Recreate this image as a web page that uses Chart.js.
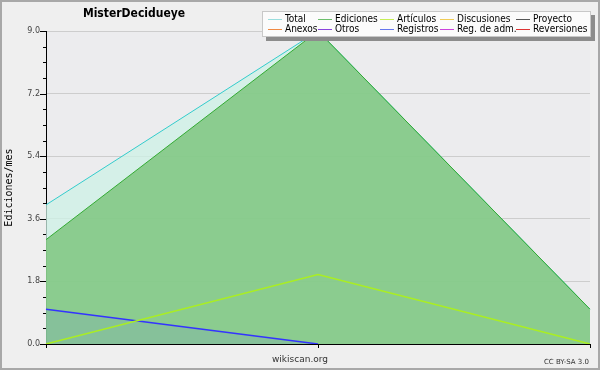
<!DOCTYPE html>
<html>
<head>
<meta charset="utf-8">
<script src="https://cdn.jsdelivr.net/npm/chart.js@4/dist/chart.umd.min.js"></script>
<style>
  html, body { margin: 0; padding: 0; background: #efefef; }
</style>
</head>
<body>
<canvas id="chart" width="600" height="370"></canvas>
<script>
// three monthly points, no tick labels shown on the x axis
const months = ['', '', ''];

const total = [4, 9, 1];
const ediciones = [3, 9, 1];
const articulos = [0, 2, 0];
const discusiones = [null, null, null];
const proyecto = [null, null, null];
const anexos = [null, null, null];
const otros = [null, null, null];
const registros = [1, 0, null];
const regAdm = [null, null, null];
const reversiones = [null, null, null];

const seriesNames = ['Total', 'Ediciones', 'Artículos', 'Discusiones', 'Proyecto',
                     'Anexos', 'Otros', 'Registros', 'Reg. de adm.', 'Reversiones'];
const legendColors = ['#9adede', '#6cbf6c', '#c6ee55', '#f0cc55', '#555555',
                      '#f08a44', '#8a44dd', '#6677ee', '#cc44dd', '#dd3333'];

const yTitle = 'Ediciones/mes';
const chartTitle = 'MisterDecidueye';

const decor = {
    id: 'decor',
    beforeDraw(chart) {
        const { ctx, chartArea: a } = chart;
        ctx.save();
        ctx.fillStyle = '#efefef';
        ctx.fillRect(0, 0, chart.width, chart.height);
        ctx.fillStyle = '#ececee';
        ctx.fillRect(a.left, a.top, a.right - a.left, a.bottom - a.top);
        ctx.restore();
    },
    afterDraw(chart) {
        const { ctx, chartArea: a } = chart;
        const ys = chart.scales.y;
        const xs = chart.scales.x;
        ctx.save();

        // tick marks on y (major every 4th)
        ctx.strokeStyle = '#000';
        ctx.lineWidth = 1;
        ys.ticks.forEach((t, i) => {
            const py = Math.round(ys.getPixelForValue(t.value)) + 0.5;
            const len = i % 4 === 0 ? 6 : 3;
            ctx.beginPath();
            ctx.moveTo(a.left - len, py);
            ctx.lineTo(a.left, py);
            ctx.stroke();
        });
        // tick marks on x
        for (let i = 0; i < months.length; i++) {
            const px = Math.round(xs.getPixelForValue(i)) + 0.5;
            ctx.beginPath();
            ctx.moveTo(px, a.bottom);
            ctx.lineTo(px, a.bottom + 4);
            ctx.stroke();
        }

        // title
        ctx.fillStyle = '#000';
        ctx.font = 'bold 12px "DejaVu Sans Condensed", "DejaVu Sans"';
        ctx.textAlign = 'center';
        ctx.textBaseline = 'middle';
        ctx.fillText(chartTitle, 134, 14);

        // legend box with shadow
        ctx.fillStyle = '#8c8c8c';
        ctx.fillRect(266, 15, 329, 26);
        ctx.fillStyle = '#fbfbfb';
        ctx.fillRect(262, 11, 329, 26);
        ctx.strokeStyle = '#c8c8c8';
        ctx.strokeRect(262.5, 11.5, 328, 25);

        const colX = [285, 335, 397, 457, 533];
        ctx.font = '10px "DejaVu Sans Condensed", "DejaVu Sans"';
        ctx.textAlign = 'left';
        for (let i = 0; i < seriesNames.length; i++) {
            const x = colX[i % 5];
            const y = i < 5 ? 19 : 29;
            ctx.strokeStyle = legendColors[i];
            ctx.beginPath();
            ctx.moveTo(x - 17, y + 0.5);
            ctx.lineTo(x - 3, y + 0.5);
            ctx.stroke();
            ctx.fillStyle = '#000';
            ctx.fillText(seriesNames[i], x, y);
        }

        // footer texts
        ctx.fillStyle = '#333';
        ctx.font = '9px "DejaVu Sans"';
        ctx.textAlign = 'center';
        ctx.fillText('wikiscan.org', 300, 360);
        ctx.font = '7px "DejaVu Sans"';
        ctx.textAlign = 'right';
        ctx.fillText('CC BY-SA 3.0', 589, 362);

        // outer frame
        ctx.strokeStyle = '#a8a8a8';
        ctx.lineWidth = 2;
        ctx.strokeRect(1, 1, chart.width - 2, chart.height - 2);
        ctx.restore();
    }
};

const mk = (i, data, line, fill, width, order) => ({
    label: seriesNames[i],
    data: data,
    borderColor: line,
    backgroundColor: fill || 'rgba(0,0,0,0)',
    fill: fill ? 'origin' : false,
    borderWidth: width,
    pointRadius: 0,
    tension: 0,
    order: order
});

new Chart(document.getElementById('chart'), {
    type: 'line',
    data: {
        labels: months,
        datasets: [
            mk(0, total, '#33cccc', 'rgba(206,242,230,0.75)', 1, 10),
            mk(1, ediciones, '#33aa33', 'rgba(120,195,120,0.8)', 1, 9),
            mk(2, articulos, '#aaee22', null, 1.5, 2),
            mk(3, discusiones, legendColors[3], null, 1.5, 7),
            mk(4, proyecto, legendColors[4], null, 1.5, 7),
            mk(5, anexos, legendColors[5], null, 1.5, 7),
            mk(6, otros, legendColors[6], null, 1.5, 7),
            mk(7, registros, '#3333ff', 'rgba(100,100,255,0.1)', 1.5, 3),
            mk(8, regAdm, legendColors[8], null, 1.5, 7),
            mk(9, reversiones, legendColors[9], null, 1.5, 7)
        ]
    },
    options: {
        responsive: false,
        animation: false,
        layout: { padding: { top: 31, right: 10, left: 0, bottom: 0 } },
        plugins: {
            legend: { display: false },
            title: { display: false },
            tooltip: { enabled: false }
        },
        scales: {
            x: {
                offset: false,
                afterFit(s) { s.height = 26; },
                ticks: { display: false },
                grid: { display: false },
                border: { color: '#000', width: 1 }
            },
            y: {
                min: 0,
                max: 9,
                afterFit(s) { s.width = 46; },
                ticks: {
                    stepSize: 0.45,
                    maxTicksLimit: 30,
                    autoSkip: false,
                    padding: 0,
                    color: '#444',
                    font: { family: 'DejaVu Sans', size: 8 },
                    callback: (v, i) => i % 4 === 0 ? Number(v).toFixed(1) : ''
                },
                grid: {
                    color: c => (c.index % 4 === 0 && c.index > 0) ? '#cdcdcd' : 'rgba(0,0,0,0)',
                    tickLength: 6,
                    tickColor: 'rgba(0,0,0,0)'
                },
                border: { color: '#000', width: 1 },
                title: {
                    display: true,
                    text: yTitle,
                    color: '#000',
                    font: { family: 'DejaVu Sans Mono', size: 10 },
                    padding: { top: 3, bottom: 0 }
                }
            }
        }
    },
    plugins: [decor]
});
</script>
</body>
</html>
